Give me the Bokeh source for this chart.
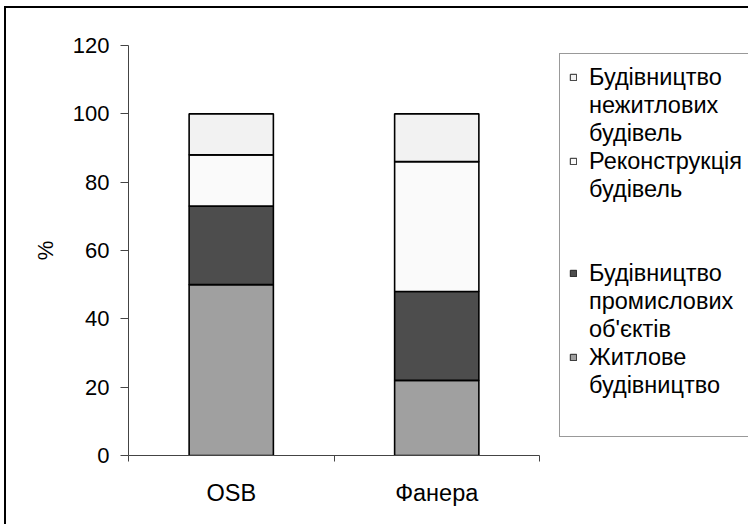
from bokeh.plotting import figure
from bokeh.layouts import row
from bokeh.models import (Range1d, FixedTicker, LinearAxis, Legend, LegendItem,
                          ColumnDataSource)
from bokeh.embed import file_html
from bokeh.resources import INLINE

# ---- data ----
categories = ["OSB", "Фанера"]
series_keys = ["zhytlove", "promyslovi", "rekonstruktsiia", "nezhytlovi"]
zhytlove = [50, 22]          # Житлове будівництво
promyslovi = [23, 26]        # Будівництво промислових об'єктів
rekonstruktsiia = [15, 38]   # Реконструкція будівель
nezhytlovi = [12, 14]        # Будівництво нежитлових будівель
y_ticks = [0, 20, 40, 60, 80, 100, 120]
labels = {
    "zhytlove": ["Житлове", "будівництво"],
    "promyslovi": ["Будівництво", "промислових", "об'єктів"],
    "rekonstruktsiia": ["Реконструкція", "будівель"],
    "nezhytlovi": ["Будівництво", "нежитлових", "будівель"],
}
legend_order = ["nezhytlovi", "rekonstruktsiia", None, None,
                "promyslovi", "zhytlove", None]
colors = ["#A0A0A0", "#4D4D4D", "#FAFAFA", "#F2F2F2"]

FONT = "Liberation Sans"
FS = "22px"
FS_BIG = "23.5px"

x_pos = [i + 0.5 for i in range(len(categories))]
source = ColumnDataSource(dict(x=x_pos, zhytlove=zhytlove, promyslovi=promyslovi,
                               rekonstruktsiia=rekonstruktsiia, nezhytlovi=nezhytlovi))

H = 516
p = figure(width=546, height=H, output_backend="svg", toolbar_location=None,
           x_range=Range1d(0, len(categories)), y_range=Range1d(0, 120),
           x_axis_location=None,
           min_border_left=122, min_border_right=13, min_border_top=37, min_border_bottom=69)
p.background_fill_color = "white"
p.border_fill_color = "white"
p.outline_line_color = None
p.xgrid.visible = False
p.ygrid.visible = False

p.vbar_stack(series_keys, x="x", width=0.41, source=source,
             fill_color=colors, line_color="black", line_width=1.6)

# y axis
ya = p.yaxis[0]
ya.ticker = FixedTicker(ticks=y_ticks)
ya.minor_tick_line_color = None
ya.major_tick_in = 0
ya.major_tick_out = 8
ya.axis_line_color = "#444444"
ya.major_tick_line_color = "#444444"
ya.major_label_text_font = FONT
ya.major_label_text_font_size = FS
ya.major_label_text_color = "black"
ya.major_label_standoff = 11
ya.axis_label = "%"
ya.axis_label_text_font = FONT
ya.axis_label_text_font_size = FS
ya.axis_label_text_font_style = "normal"
ya.axis_label_text_color = "black"
ya.axis_label_standoff = 12

# x axis: boundary ticks (no labels) + category labels
ax1 = LinearAxis(ticker=FixedTicker(ticks=list(range(len(categories) + 1))),
                 major_label_text_font_size="1px", major_label_text_color=None,
                 major_tick_in=0, major_tick_out=6,
                 minor_tick_line_color=None, axis_line_color="#444444",
                 major_tick_line_color="#444444", major_label_standoff=0)
ax2 = LinearAxis(ticker=FixedTicker(ticks=x_pos),
                 major_label_overrides={x: c for x, c in zip(x_pos, categories)},
                 axis_line_color=None, major_tick_line_color=None, minor_tick_line_color=None,
                 major_label_text_font=FONT, major_label_text_font_size=FS_BIG,
                 major_label_text_color="black", major_label_standoff=12)
p.add_layout(ax1, "below")
p.add_layout(ax2, "below")

# ---- legend panel ----
lp = figure(width=196, height=H, output_backend="svg", toolbar_location=None,
            x_range=Range1d(0, 1), y_range=Range1d(0, 1),
            x_axis_location=None, y_axis_location=None, min_border=0)
lp.background_fill_color = "white"
lp.border_fill_color = "white"
lp.outline_line_color = None
lp.xgrid.visible = False
lp.ygrid.visible = False

nan = float("nan")
swatch = {k: lp.vbar(x=[nan], top=[nan], width=1, fill_color=c,
                     line_color="#222222", line_width=1)
          for k, c in zip(series_keys, colors)}
blank = lp.vbar(x=[nan], top=[nan], width=1, fill_alpha=0, line_alpha=0)

items = []
for key in legend_order:
    if key is None:
        items.append(LegendItem(label=" ", renderers=[blank]))
        continue
    lines = labels[key]
    items.append(LegendItem(label=lines[0], renderers=[swatch[key]]))
    for ln in lines[1:]:
        items.append(LegendItem(label=ln, renderers=[blank]))

legend = Legend(items=items, location=(7, 18),
                border_line_color="#333333", border_line_width=1,
                background_fill_color="white", background_fill_alpha=1,
                label_text_font=FONT, label_text_font_size=FS_BIG, label_text_color="black",
                label_height=28, label_width=160,
                glyph_width=8, glyph_height=8,
                label_standoff=12, spacing=0, padding=9, margin=0)
lp.add_layout(legend)

layout = row(p, lp)
layout.styles = {"margin-left": "4px", "margin-top": "6px",
                 "border-left": "2px solid black", "border-top": "2px solid black"}

open("out.html", "w").write(file_html(layout, INLINE))
